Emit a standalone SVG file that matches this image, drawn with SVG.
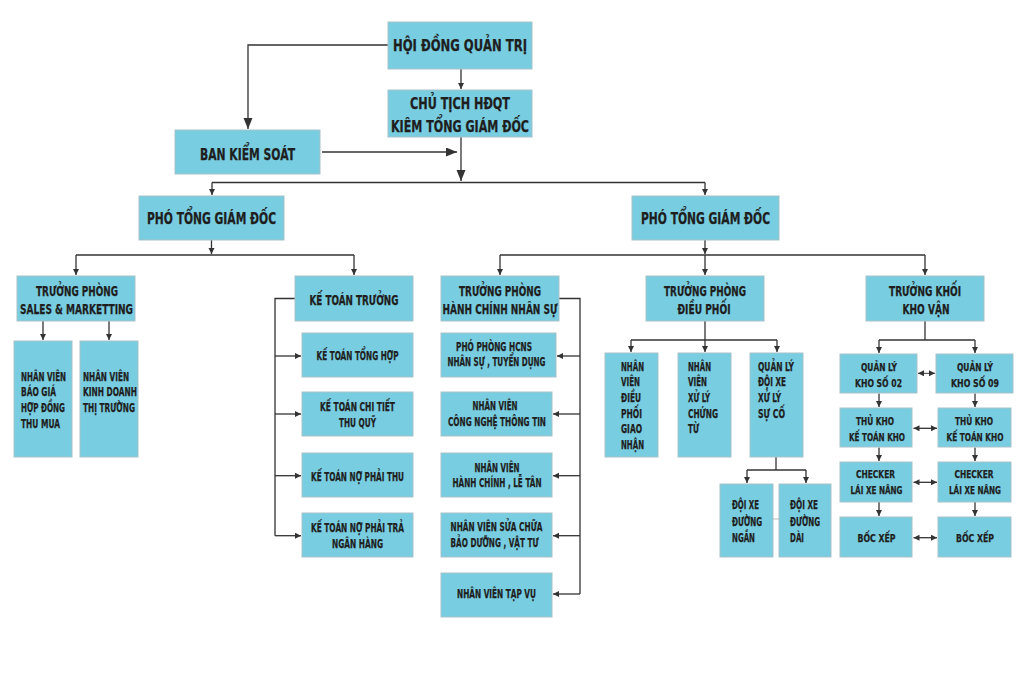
<svg xmlns="http://www.w3.org/2000/svg" width="1024" height="680" viewBox="0 0 1024 680">
<defs>
<style>
.b{fill:#78cde0;stroke:#a7c3c9;stroke-width:1}
text{font-family:"DejaVu Sans Condensed","DejaVu Sans","Liberation Sans",sans-serif;font-weight:bold;fill:#1e1e1e;text-anchor:middle;stroke:#1e1e1e;stroke-width:0.25}
.l{text-anchor:start}
.f1{font-size:16px}
.f2{font-size:15px}
.f3{font-size:13.5px}
.f4{font-size:12px}
.f5{font-size:11.5px}
.f6{font-size:11px}
.c{fill:none;stroke:#333;stroke-width:1.3}
.a{marker-end:url(#ah)}
.A{marker-end:url(#ahL)}
.d{marker-end:url(#ah);marker-start:url(#ah)}
</style>
<marker id="ah" markerUnits="userSpaceOnUse" markerWidth="7" markerHeight="7" refX="6" refY="3" orient="auto-start-reverse"><path d="M0,0 L6,3 L0,6 z" fill="#333"/></marker>
<marker id="ahL" markerUnits="userSpaceOnUse" markerWidth="12" markerHeight="10" refX="11" refY="4.5" orient="auto"><path d="M0,0 L11,4.5 L0,9 z" fill="#333"/></marker>
</defs>
<rect width="1024" height="680" fill="#fff"/>

<g id="connectors">
<path class="c A" d="M388,45 H248 V129"/>
<path class="c a" d="M461,69 V89"/>
<path class="c A" d="M322,152 H457"/>
<path class="c A" d="M461,137 V181"/>
<path class="c" d="M212,182.5 H705"/>
<path class="c a" d="M212,182.5 V195"/>
<path class="c a" d="M705,182.5 V195"/>
<path class="c a" d="M211.5,240 V254"/>
<path class="c" d="M76,255 H354"/>
<path class="c a" d="M76,255 V275"/>
<path class="c a" d="M354,255 V275"/>
<path class="c a" d="M705,240 V254"/>
<path class="c" d="M500,255 H925"/>
<path class="c a" d="M500,255 V275"/>
<path class="c a" d="M705,255 V275"/>
<path class="c a" d="M925,255 V275"/>
<path class="c a" d="M43,321 V340"/>
<path class="c a" d="M109,321 V340"/>
<path class="c" d="M295,298.5 H275 V535.7"/>
<path class="c a" d="M275,356 H301"/>
<path class="c a" d="M275,414 H301"/>
<path class="c a" d="M275,475.7 H301"/>
<path class="c a" d="M275,535.7 H301"/>
<path class="c" d="M559,298.5 H580 V594"/>
<path class="c a" d="M580,356 H557"/>
<path class="c a" d="M580,414 H553"/>
<path class="c a" d="M580,475.7 H553"/>
<path class="c a" d="M580,535.7 H553"/>
<path class="c a" d="M580,594 H553"/>
<path class="c" d="M705,321 V340"/>
<path class="c" d="M631,340 H777"/>
<path class="c a" d="M631,340 V352"/>
<path class="c a" d="M705,340 V352"/>
<path class="c a" d="M777,340 V352"/>
<path class="c" d="M776,457 V470"/>
<path class="c" d="M747,470 H806"/>
<path class="c a" d="M747,470 V483"/>
<path class="c a" d="M806,470 V483"/>
<path d="M773,519 H779" stroke="#bbb" stroke-width="1" fill="none"/>
<path class="c" d="M925,321 V340"/>
<path class="c" d="M879,340 H975"/>
<path class="c a" d="M879,340 V353"/>
<path class="c a" d="M975,340 V353"/>
<path class="c d" d="M918,373.3 H935" style="stroke-width:1"/>
<path class="c d" d="M913.5,428.3 H937"/>
<path class="c d" d="M913.5,482.3 H937"/>
<path class="c d" d="M913.5,537.7 H937"/>
<path class="c a" d="M879,393.5 V407"/>
<path class="c a" d="M975,393.5 V407"/>
<path class="c a" d="M879,447.5 V461"/>
<path class="c a" d="M975,447.5 V461"/>
<path class="c a" d="M879,502 V516"/>
<path class="c a" d="M975,502 V516"/>
</g>

<g id="hdqt"><rect class="b" x="388" y="22" width="144" height="47"/><text class="f1" x="460" y="51" textLength="134" lengthAdjust="spacingAndGlyphs">HỘI ĐỒNG QUẢN TRỊ</text></g>
<g id="chu-tich"><rect class="b" x="388" y="90" width="144" height="47"/><text class="f2" x="460" y="109" textLength="100" lengthAdjust="spacingAndGlyphs">CHỦ TỊCH HĐQT</text><text class="f2" x="460" y="132" textLength="138" lengthAdjust="spacingAndGlyphs">KIÊM TỔNG GIÁM ĐỐC</text></g>
<g id="ban-kiem-soat"><rect class="b" x="175" y="130" width="145" height="44"/><text class="f2" x="247.5" y="160" textLength="95" lengthAdjust="spacingAndGlyphs">BAN KIỂM SOÁT</text></g>
<g id="pho-tgd-1"><rect class="b" x="139" y="196" width="145" height="44"/><text class="f2" x="211.5" y="224" textLength="129" lengthAdjust="spacingAndGlyphs">PHÓ TỔNG GIÁM ĐỐC</text></g>
<g id="pho-tgd-2"><rect class="b" x="632" y="196" width="147" height="44"/><text class="f2" x="705.5" y="224" textLength="129" lengthAdjust="spacingAndGlyphs">PHÓ TỔNG GIÁM ĐỐC</text></g>

<g id="tp-sales"><rect class="b" x="17" y="276" width="118" height="45"/><text class="f3" x="77" y="295.5" textLength="82" lengthAdjust="spacingAndGlyphs">TRƯỞNG PHÒNG</text><text class="f3" x="76.5" y="314" textLength="113" lengthAdjust="spacingAndGlyphs">SALES &amp; MARKETTING</text></g>
<g id="nv-bao-gia"><rect class="b" x="14" y="341" width="58" height="116"/><text class="f5 l" x="21" y="380.7" textLength="45" lengthAdjust="spacingAndGlyphs">NHÂN VIÊN</text><text class="f5 l" x="21" y="396.4" textLength="35" lengthAdjust="spacingAndGlyphs">BÁO GIÁ</text><text class="f5 l" x="21" y="412" textLength="44" lengthAdjust="spacingAndGlyphs">HỢP ĐỒNG</text><text class="f5 l" x="21" y="427.7" textLength="39" lengthAdjust="spacingAndGlyphs">THU MUA</text></g>
<g id="nv-kinh-doanh"><rect class="b" x="80" y="341" width="58" height="116"/><text class="f5 l" x="83" y="380.7" textLength="46" lengthAdjust="spacingAndGlyphs">NHÂN VIÊN</text><text class="f5 l" x="83" y="396.4" textLength="54" lengthAdjust="spacingAndGlyphs">KINH DOANH</text><text class="f5 l" x="83" y="412" textLength="52" lengthAdjust="spacingAndGlyphs">THỊ TRƯỜNG</text></g>

<g id="ke-toan-truong"><rect class="b" x="295" y="276" width="118" height="45"/><text class="f3" x="354" y="305" textLength="89" lengthAdjust="spacingAndGlyphs">KẾ TOÁN TRƯỞNG</text></g>
<g id="kt-tong-hop"><rect class="b" x="302" y="333" width="111" height="44"/><text class="f4" x="357.5" y="360" textLength="82" lengthAdjust="spacingAndGlyphs">KẾ TOÁN TỔNG HỢP</text></g>
<g id="kt-chi-tiet"><rect class="b" x="302" y="392" width="111" height="44"/><text class="f4" x="357.5" y="411.3" textLength="75" lengthAdjust="spacingAndGlyphs">KẾ TOÁN CHI TIẾT</text><text class="f4" x="357.5" y="426.7" textLength="37" lengthAdjust="spacingAndGlyphs">THU QUỸ</text></g>
<g id="kt-no-phai-thu"><rect class="b" x="302" y="453" width="111" height="44"/><text class="f4" x="357.5" y="480.7" textLength="93" lengthAdjust="spacingAndGlyphs">KẾ TOÁN NỢ PHẢI THU</text></g>
<g id="kt-no-phai-tra"><rect class="b" x="302" y="513" width="111" height="44"/><text class="f4" x="357.5" y="532.3" textLength="93" lengthAdjust="spacingAndGlyphs">KẾ TOÁN NỢ PHẢI TRẢ</text><text class="f4" x="357.5" y="548" textLength="51" lengthAdjust="spacingAndGlyphs">NGÂN HÀNG</text></g>

<g id="tp-hcns"><rect class="b" x="441" y="276" width="118" height="45"/><text class="f3" x="500" y="295.5" textLength="82" lengthAdjust="spacingAndGlyphs">TRƯỞNG PHÒNG</text><text class="f3" x="500" y="314" textLength="115" lengthAdjust="spacingAndGlyphs">HÀNH CHÍNH NHÂN SỰ</text></g>
<g id="pho-phong-hcns"><rect class="b" x="441" y="333" width="115" height="44"/><text class="f4" x="494" y="351.3" textLength="76" lengthAdjust="spacingAndGlyphs">PHÓ PHÒNG HCNS</text><text class="f4" x="496.5" y="366.3" textLength="98" lengthAdjust="spacingAndGlyphs">NHÂN SỰ , TUYỂN DỤNG</text></g>
<g id="nv-cntt"><rect class="b" x="441" y="392" width="111" height="44"/><text class="f4" x="495" y="410" textLength="45" lengthAdjust="spacingAndGlyphs">NHÂN VIÊN</text><text class="f4" x="497" y="425.7" textLength="98" lengthAdjust="spacingAndGlyphs">CÔNG NGHỆ THÔNG TIN</text></g>
<g id="nv-hanh-chinh"><rect class="b" x="441" y="453" width="111" height="44"/><text class="f4" x="497" y="471.7" textLength="45" lengthAdjust="spacingAndGlyphs">NHÂN VIÊN</text><text class="f4" x="497" y="487.3" textLength="89" lengthAdjust="spacingAndGlyphs">HÀNH CHÍNH , LỄ TÂN</text></g>
<g id="nv-sua-chua"><rect class="b" x="441" y="513" width="111" height="44"/><text class="f4" x="496.5" y="531.3" textLength="92" lengthAdjust="spacingAndGlyphs">NHÂN VIÊN SỬA CHỮA</text><text class="f4" x="494.5" y="547.3" textLength="88" lengthAdjust="spacingAndGlyphs">BẢO DƯỠNG , VẬT TƯ</text></g>
<g id="nv-tap-vu"><rect class="b" x="441" y="573" width="111" height="44"/><text class="f4" x="496.5" y="598" textLength="79" lengthAdjust="spacingAndGlyphs">NHÂN VIÊN TẠP VỤ</text></g>

<g id="tp-dieu-phoi"><rect class="b" x="646" y="276" width="118" height="45"/><text class="f3" x="705" y="295.5" textLength="82" lengthAdjust="spacingAndGlyphs">TRƯỞNG PHÒNG</text><text class="f3" x="704" y="314" textLength="53" lengthAdjust="spacingAndGlyphs">ĐIỀU PHỐI</text></g>
<g id="nv-dieu-phoi"><rect class="b" x="605" y="353" width="53" height="104"/><text class="f5 l" x="621" y="370.7" textLength="23" lengthAdjust="spacingAndGlyphs">NHÂN</text><text class="f5 l" x="621" y="386.4" textLength="19" lengthAdjust="spacingAndGlyphs">VIÊN</text><text class="f5 l" x="621" y="402" textLength="20" lengthAdjust="spacingAndGlyphs">ĐIỀU</text><text class="f5 l" x="621" y="417.7" textLength="21" lengthAdjust="spacingAndGlyphs">PHỐI</text><text class="f5 l" x="621" y="433.4" textLength="21" lengthAdjust="spacingAndGlyphs">GIAO</text><text class="f5 l" x="621" y="449" textLength="23" lengthAdjust="spacingAndGlyphs">NHẬN</text></g>
<g id="nv-xu-ly"><rect class="b" x="678" y="353" width="53" height="104"/><text class="f5 l" x="688" y="370.7" textLength="23" lengthAdjust="spacingAndGlyphs">NHÂN</text><text class="f5 l" x="688" y="386.4" textLength="19" lengthAdjust="spacingAndGlyphs">VIÊN</text><text class="f5 l" x="688" y="402" textLength="22" lengthAdjust="spacingAndGlyphs">XỬ LÝ</text><text class="f5 l" x="688" y="417.7" textLength="30" lengthAdjust="spacingAndGlyphs">CHỨNG</text><text class="f5 l" x="688" y="433.4" textLength="11" lengthAdjust="spacingAndGlyphs">TỪ</text></g>
<g id="ql-doi-xe"><rect class="b" x="750" y="353" width="53" height="104"/><text class="f5 l" x="758" y="370.7" textLength="36" lengthAdjust="spacingAndGlyphs">QUẢN LÝ</text><text class="f5 l" x="758" y="386.4" textLength="28" lengthAdjust="spacingAndGlyphs">ĐỘI XE</text><text class="f5 l" x="758" y="402" textLength="23" lengthAdjust="spacingAndGlyphs">XỬ LÝ</text><text class="f5 l" x="758" y="417.7" textLength="27" lengthAdjust="spacingAndGlyphs">SỰ CỐ</text></g>
<g id="doi-xe-ngan"><rect class="b" x="720" y="484" width="53" height="73"/><text class="f5 l" x="732" y="509" textLength="27" lengthAdjust="spacingAndGlyphs">ĐỘI XE</text><text class="f5 l" x="732" y="525.7" textLength="30" lengthAdjust="spacingAndGlyphs">ĐƯỜNG</text><text class="f5 l" x="732" y="541.7" textLength="23" lengthAdjust="spacingAndGlyphs">NGẮN</text></g>
<g id="doi-xe-dai"><rect class="b" x="779" y="484" width="52" height="73"/><text class="f5 l" x="790" y="509" textLength="28" lengthAdjust="spacingAndGlyphs">ĐỘI XE</text><text class="f5 l" x="790" y="525.7" textLength="30" lengthAdjust="spacingAndGlyphs">ĐƯỜNG</text><text class="f5 l" x="790" y="541.7" textLength="14" lengthAdjust="spacingAndGlyphs">DÀI</text></g>

<g id="truong-khoi"><rect class="b" x="866" y="276" width="118" height="45"/><text class="f3" x="925" y="295.5" textLength="72" lengthAdjust="spacingAndGlyphs">TRƯỞNG KHỐI</text><text class="f3" x="926" y="314" textLength="47" lengthAdjust="spacingAndGlyphs">KHO VẬN</text></g>
<g id="ql-kho-02"><rect class="b" x="840" y="354" width="77" height="39"/><text class="f6" x="879" y="371.3" textLength="36" lengthAdjust="spacingAndGlyphs">QUẢN LÝ</text><text class="f6" x="878.5" y="386.7" textLength="47" lengthAdjust="spacingAndGlyphs">KHO SỐ 02</text></g>
<g id="ql-kho-09"><rect class="b" x="936" y="354" width="77" height="39"/><text class="f6" x="975" y="371.3" textLength="36" lengthAdjust="spacingAndGlyphs">QUẢN LÝ</text><text class="f6" x="975" y="386.7" textLength="48" lengthAdjust="spacingAndGlyphs">KHO SỐ 09</text></g>
<g id="thu-kho-1"><rect class="b" x="840" y="408" width="72" height="39"/><text class="f6" x="875" y="425" textLength="38" lengthAdjust="spacingAndGlyphs">THỦ KHO</text><text class="f6" x="877" y="440.7" textLength="56" lengthAdjust="spacingAndGlyphs">KẾ TOÁN KHO</text></g>
<g id="thu-kho-2"><rect class="b" x="938" y="408" width="73" height="39"/><text class="f6" x="974" y="425" textLength="38" lengthAdjust="spacingAndGlyphs">THỦ KHO</text><text class="f6" x="975" y="440.7" textLength="57" lengthAdjust="spacingAndGlyphs">KẾ TOÁN KHO</text></g>
<g id="checker-1"><rect class="b" x="840" y="462" width="72" height="40"/><text class="f6" x="875.5" y="478" textLength="39" lengthAdjust="spacingAndGlyphs">CHECKER</text><text class="f6" x="876.5" y="494" textLength="52" lengthAdjust="spacingAndGlyphs">LÁI XE NÂNG</text></g>
<g id="checker-2"><rect class="b" x="938" y="462" width="73" height="40"/><text class="f6" x="974" y="478" textLength="39" lengthAdjust="spacingAndGlyphs">CHECKER</text><text class="f6" x="975" y="494" textLength="52" lengthAdjust="spacingAndGlyphs">LÁI XE NÂNG</text></g>
<g id="boc-xep-1"><rect class="b" x="840" y="517" width="72" height="40"/><text class="f6" x="876.5" y="542.3" textLength="38" lengthAdjust="spacingAndGlyphs">BỐC XẾP</text></g>
<g id="boc-xep-2"><rect class="b" x="938" y="517" width="73" height="40"/><text class="f6" x="975" y="542.3" textLength="38" lengthAdjust="spacingAndGlyphs">BỐC XẾP</text></g>
</svg>
